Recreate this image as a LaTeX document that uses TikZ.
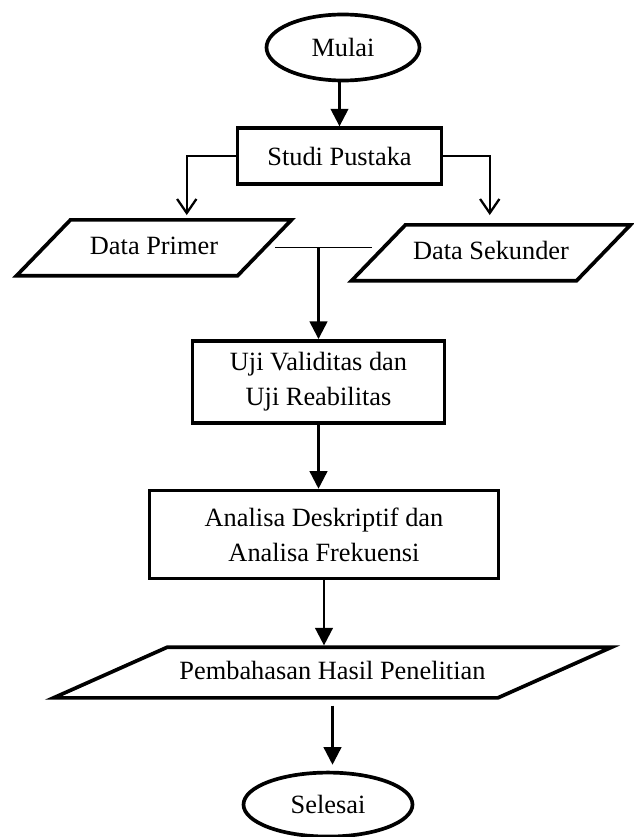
\documentclass[tikz,border=0pt]{standalone}
\usepackage{fontspec}
\setmainfont{Liberation Serif}
\usetikzlibrary{positioning,shapes.geometric,arrows.meta}

\tikzset{
  terminal/.style={draw, ellipse, line width=2.1pt, inner sep=0pt},
  process/.style={draw, rectangle, line width=2.1pt, align=center},
  io/.style={draw, trapezium, trapezium stretches body, line width=2.1pt, inner xsep=0pt, text height=11pt, text depth=3pt},
  flow/.style={line width=1.4pt, -{Triangle[length=10pt,width=10pt]}},
  split/.style={line width=1.3pt, -{Straight Barb[length=8pt,width=11pt]}},
  joint/.style={line width=.6pt}
}

\begin{document}
\begin{tikzpicture}[font=\fontsize{15}{20}\selectfont]
            \useasboundingbox (0,0) rectangle (12.66,-16.74);

            \node (mulai) [terminal, minimum width=3.06cm, minimum height=1.32cm] at (6.86,-.95) {Mulai};
            \node (studi) [process, minimum width=4.08cm, minimum height=1.12cm, below=.88cm of mulai, xshift=-.07cm] {Studi Pustaka};
            \node (primer) [io, trapezium left angle=46, trapezium right angle=134, minimum width=5.5cm, inner ysep=8.9pt, below=.64cm of studi, xshift=-3.71cm] {Data Primer};
            \node (sekunder) [io, trapezium left angle=46, trapezium right angle=134, minimum width=5.58cm, inner ysep=8.9pt, below=.74cm of studi, xshift=3.03cm] {Data Sekunder};
            \node (uji) [process, minimum width=5.04cm, minimum height=1.64cm, below=3.06cm of studi, xshift=-.42cm] {Uji Validitas dan\\Uji Reabilitas};
            \node (analisa) [process, minimum width=6.98cm, minimum height=1.76cm, below=1.28cm of uji, xshift=.11cm] {Analisa Deskriptif dan\\Analisa Frekuensi};
            \node (bahas) [io, trapezium left angle=24, trapezium right angle=156, minimum width=11.16cm, inner ysep=7.4pt, below=1.3cm of analisa, xshift=.17cm] {Pembahasan Hasil Penelitian};
            \node (selesai) [terminal, minimum width=3.38cm, minimum height=1.28cm, below=1.42cm of bahas, xshift=-.09cm] {Selesai};

            \coordinate (junction) at (uji.north |- primer.east);

            \draw[flow] (studi.north |- mulai.south) -- (studi.north);
            \draw[split] (studi.west) -| ([xshift=.08cm, yshift=.06cm]primer.top side);
            \draw[split] (studi.east) -| ([xshift=-.6cm, yshift=.16cm]sekunder.top side);
            \draw[joint] ([xshift=.16cm]primer.east) -- ([xshift=-.08cm]primer.east -| sekunder.west);
            \draw[flow] (junction) -- (uji.north);
            \draw[flow] (uji.south) -- (uji.south |- analisa.north);
            \draw[flow] (analisa.south) -- (analisa.south |- bahas.north);
            \draw[flow] ([yshift=-.12cm]bahas.south) -- ([yshift=.12cm]bahas.south |- selesai.north);
\end{tikzpicture}
\end{document}
